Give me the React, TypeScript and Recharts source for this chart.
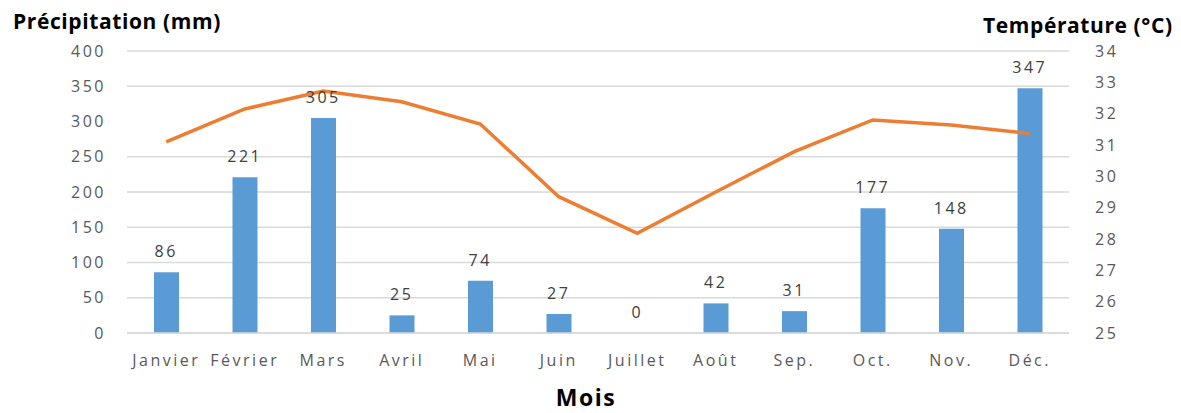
import React from "react";
import {
  ComposedChart,
  Bar,
  Line,
  XAxis,
  YAxis,
  CartesianGrid,
  LabelList,
} from "recharts";

const months = ["Janvier", "Février", "Mars", "Avril", "Mai", "Juin", "Juillet", "Août", "Sep.", "Oct.", "Nov.", "Déc."];
const precipitation = [86, 221, 305, 25, 74, 27, 0, 42, 31, 177, 148, 347];
const temperature = [31.1, 32.15, 32.72, 32.38, 31.67, 29.35, 28.18, 29.5, 30.79, 31.8, 31.64, 31.37];
const leftTicks = [0, 50, 100, 150, 200, 250, 300, 350, 400];
const rightTicks = [25, 26, 27, 28, 29, 30, 31, 32, 33, 34];
const gridValues = [0, 50, 100, 150, 200, 250, 350, 400];

const data = months.map((m, i) => ({ month: m, precip: precipitation[i], temp: temperature[i] }));

const FONT = "'Open Sans', sans-serif";
const TICK = { fill: "#595959", fontSize: 16, fontFamily: FONT, letterSpacing: 2.5 };

export default function App() {
  const W = 1165;
  const H = 397;
  return (
    <div style={{ position: "relative", width: W, height: 405 }}>
      <ComposedChart
        width={W}
        height={H}
        data={data}
        margin={{ top: 43, right: 0, left: 0, bottom: 0 }}
      >
        <CartesianGrid
          vertical={false}
          stroke="#d9d9d9"
          strokeWidth={1.5}
          yAxisId="left"
          horizontalValues={gridValues}
        />
        <XAxis
          dataKey="month"
          tickLine={false}
          axisLine={{ stroke: "#d9d9d9", strokeWidth: 1.5 }}
          tick={TICK}
          tickSize={0}
          tickMargin={22}
          height={72}
          interval={0}
        />
        <YAxis
          yAxisId="left"
          orientation="left"
          domain={[0, 400]}
          ticks={leftTicks}
          width={119}
          tickLine={false}
          axisLine={false}
          tickSize={0}
          tickMargin={21}
          tick={TICK}
        />
        <YAxis
          yAxisId="right"
          orientation="right"
          domain={[25, 34]}
          ticks={rightTicks}
          width={104}
          tickLine={false}
          axisLine={false}
          tickSize={0}
          tickMargin={26}
          tick={{ ...TICK, textAnchor: "start" }}
        />
        <Bar yAxisId="left" dataKey="precip" fill="#5B9BD5" barSize={25} isAnimationActive={false} />
        <Line
          yAxisId="left"
          dataKey="precip"
          stroke="none"
          dot={false}
          activeDot={false}
          legendType="none"
          isAnimationActive={false}
        >
          <LabelList
            dataKey="precip"
            position="top"
            offset={15}
            fill="#404040"
            fontSize={16}
            fontFamily={FONT}
            letterSpacing={2.5}
          />
        </Line>
        <Line
          yAxisId="right"
          dataKey="temp"
          type="linear"
          stroke="#ED7D31"
          strokeWidth={3.5}
          dot={false}
          activeDot={false}
          isAnimationActive={false}
        />
      </ComposedChart>
      <svg
        width={W}
        height={405}
        style={{ position: "absolute", left: 0, top: 0, pointerEvents: "none" }}
      >
        <text x={5} y={20.5} fontFamily={FONT} fontWeight={700} fontSize={21} letterSpacing={0.6} fill="#000">
          Précipitation (mm)
        </text>
        <text x={975} y={24.5} fontFamily={FONT} fontWeight={700} fontSize={21} letterSpacing={0.6} fill="#000">
          Température (°C)
        </text>
        <text x={578} y={398} textAnchor="middle" fontFamily={FONT} fontWeight={700} fontSize={23} letterSpacing={1.5} fill="#000">
          Mois
        </text>
      </svg>
    </div>
  );
}
